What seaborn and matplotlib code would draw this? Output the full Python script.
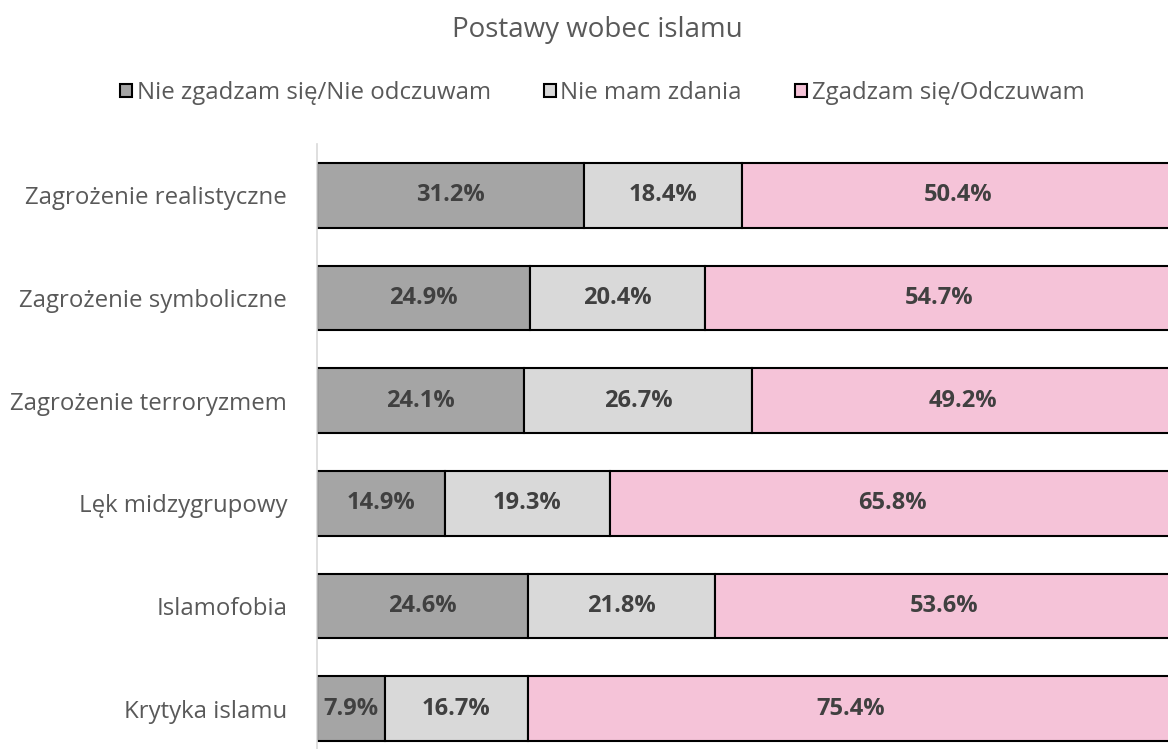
import matplotlib
matplotlib.use("Agg")
import matplotlib.pyplot as plt
import numpy as np
import pandas as pd
import seaborn as sns
from matplotlib.patches import Patch

categories = ["Zagrożenie realistyczne", "Zagrożenie symboliczne",
              "Zagrożenie terroryzmem", "Lęk midzygrupowy",
              "Islamofobia", "Krytyka islamu"]
disagree = [31.2, 24.9, 24.1, 14.9, 24.6, 7.9]
no_opinion = [18.4, 20.4, 26.7, 19.3, 21.8, 16.7]
agree = [50.4, 54.7, 49.2, 65.8, 53.6, 75.4]
series_names = ["Nie zgadzam się/Nie odczuwam", "Nie mam zdania",
                "Zgadzam się/Odczuwam"]
colors = ["#A5A5A5", "#D9D9D9", "#F5C3D8"]

sns.set_style("white")
plt.rcParams['font.family'] = ['Open Sans', 'DejaVu Sans']
text_col = "#595959"

fig = plt.figure(figsize=(11.68, 7.49), dpi=100)
ax = fig.add_axes([317 / 1168, -11 / 749, 857 / 1168, 616 / 749])

df = pd.DataFrame({"cat": categories, series_names[0]: disagree,
                   series_names[1]: no_opinion, series_names[2]: agree})
left = np.zeros(len(categories))
for name, col in zip(series_names, colors):
    sns.barplot(data=df, x=name, y="cat", orient="h", left=left, color=col,
                edgecolor="black", linewidth=1.5, width=0.63, saturation=1,
                ax=ax)
    bars = ax.containers[-1]
    ax.bar_label(bars, labels=[f"{v:.1f}%" for v in df[name]],
                 label_type="center", fontsize=17, fontweight="bold",
                 color="#404040")
    left = left + df[name].to_numpy()

ax.set_xlim(0, 100)
ax.set_ylim(5.5, -0.5)
ax.set_xlabel("")
ax.set_ylabel("")
ax.set_xticks([])
ax.tick_params(axis="y", length=0, pad=21.5, labelsize=17.3,
               labelcolor=text_col)
for s in ["top", "right", "bottom"]:
    ax.spines[s].set_visible(False)
ax.spines["left"].set_color("#D9D9D9")
ax.spines["left"].set_linewidth(1.2)

fig.text(597 / 1168, 1 - 37 / 749, "Postawy wobec islamu", ha="center",
         va="baseline", fontsize=20, color=text_col)

handles = [Patch(facecolor=c, edgecolor="black", linewidth=1.5) for c in colors]
fig.legend(handles, series_names, loc="center", ncol=3, frameon=False,
           bbox_to_anchor=(602 / 1168, 1 - 93 / 749), fontsize=17.3,
           labelcolor=text_col, handlelength=0.5, handleheight=0.5,
           handletextpad=0.2, columnspacing=2.2, borderpad=0)

fig.savefig("out.png", dpi=100)
